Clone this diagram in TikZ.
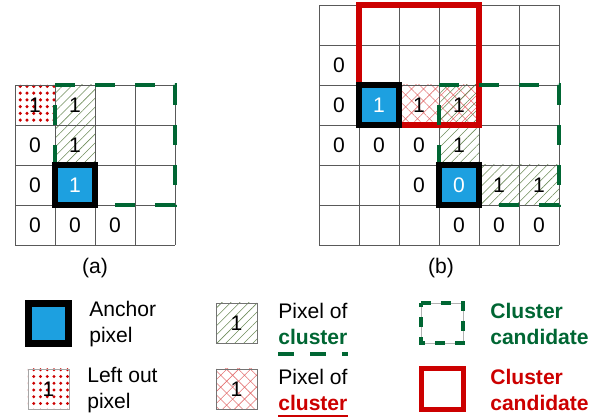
\documentclass[tikz,border=0pt]{standalone}
\usepackage{fontspec}
\setmainfont{Liberation Sans}
\usetikzlibrary{patterns.meta}
\definecolor{anchorblue}{RGB}{29,160,224}
\definecolor{candgreen}{RGB}{0,102,51}
\definecolor{candred}{RGB}{204,0,0}
\definecolor{hatchgreen}{RGB}{110,140,90}
\begin{document}
\begin{tikzpicture}[
    font = \fontsize{15}{18.5}\selectfont,
    gridline/.style = {black!65, line width = 0.6pt},
    digit/.style = {inner sep = 0pt},
    anchorbox/.style = {draw = black, line width = 0.16cm, fill = anchorblue},
    greencand/.style = {candgreen, line width = 0.12cm, dash pattern = on 0.5cm off 0.5cm},
    redcand/.style = {candred, line width = 0.14cm},
    greenhatch/.style = {pattern = {Lines[angle = 45, distance = 4.5pt, line width = 0.4pt]}, pattern color = hatchgreen},
    redhatch/.style = {pattern = {Hatch[angle = 45, distance = 6pt, line width = 0.4pt]}, pattern color = candred!55},
    leftout/.style = {pattern = {Dots[distance = 4.8pt, radius = 1.2pt]}, pattern color = candred},
    legendtext/.style = {anchor = west, align = left, inner sep = 0pt}
]
\useasboundingbox (0, 0) rectangle (15.2, -10.425);

% (a)
\begin{scope}[shift = {(0.375, -2.125)}]
    \fill [leftout] (0, 0) rectangle (1, -1);
    \fill [greenhatch] (1, 0) rectangle (2, -2);
    \draw [gridline] (0, 0) grid (4, -4);
    \foreach \c/\r/\v [count = \i] in {0/0/1, 1/0/1, 0/1/0, 1/1/1, 0/2/0, 0/3/0, 1/3/0, 2/3/0}
        \node [digit] (a\i) at (\c + 0.5, -\r - 0.5) {\v};
    \draw [greencand] (1, 0) -- (4, 0) -- (4, -3) -- (1, -3) -- cycle;
    \draw [anchorbox] (1, -2) rectangle (2, -3);
    \node [digit, white] (aanchor) at (1.5, -2.5) {1};
    \node (alabel) at (2, -4.575) {(a)};
\end{scope}

% (b)
\begin{scope}[shift = {(7.975, -0.125)}]
    \fill [redhatch] (2, -2) rectangle (4, -3);
    \fill [greenhatch] (3, -2) rectangle (4, -4);
    \fill [greenhatch] (4, -4) rectangle (6, -5);
    \draw [gridline] (0, 0) grid (6, -6);
    \foreach \c/\r/\v [count = \i] in {0/1/0, 0/2/0, 2/2/1, 3/2/1, 0/3/0, 1/3/0, 2/3/0, 3/3/1, 2/4/0, 4/4/1, 5/4/1, 3/5/0, 4/5/0, 5/5/0}
        \node [digit] (b\i) at (\c + 0.5, -\r - 0.5) {\v};
    \draw [redcand] (1, 0) rectangle (4, -3);
    \draw [greencand] (3, -2) -- (6, -2) -- (6, -5) -- (3, -5) -- cycle;
    \draw [anchorbox] (1, -2) rectangle (2, -3);
    \node [digit, white] (banchorone) at (1.5, -2.5) {1};
    \draw [anchorbox] (3, -4) rectangle (4, -5);
    \node [digit, white] (banchortwo) at (3.5, -4.5) {0};
    \node (blabel) at (3.05, -6.575) {(b)};
\end{scope}

% legend
\draw [anchorbox, line width = 0.175cm] (0.7125, -7.5875) rectangle (1.7125, -8.5875);
\node [legendtext] (anchortext) at (2.225, -8.1) {Anchor\\pixel};
\draw [leftout, draw = black!35] (0.7, -9.225) rectangle (1.725, -10.225);
\node [digit] (leftone) at (1.2125, -9.725) {1};
\node [legendtext] (lefttext) at (2.175, -9.74) {Left out\\pixel};

\draw [greenhatch, draw = black!55] (5.4, -7.575) rectangle (6.425, -8.575);
\node [digit] (greenone) at (5.9125, -8.075) {1};
\node [legendtext] (greentext) at (6.95, -8.1) {Pixel of\\\textbf{\color{candgreen}cluster}};
\draw [candgreen, line width = 0.1cm, dash pattern = on 0.4cm off 0.4cm] ([yshift = -0.225cm] greentext.south west) -- ([yshift = -0.225cm] greentext.south east);
\draw [redhatch, draw = black!55] (5.4, -9.225) rectangle (6.425, -10.225);
\node [digit] (redone) at (5.9125, -9.725) {1};
\node [legendtext] (redtext) at (6.95, -9.74) {Pixel of\\\textbf{\color{candred}cluster}};
\draw [candred, line width = 0.05cm] ([yshift = -0.125cm] redtext.south west) -- ([yshift = -0.125cm] redtext.south east);

\draw [black!30, line width = 0.5pt] (10.525, -7.575) rectangle (11.575, -8.575);
\draw [greencand, line width = 0.1cm, dash pattern = on 0.25cm off 0.25cm] (10.525, -7.575) -- (11.575, -7.575) -- (11.575, -8.575) -- (10.525, -8.575) -- cycle;
\node [legendtext, font = \fontsize{15}{18.5}\selectfont\bfseries, candgreen] (greencandtext) at (12.25, -8.1) {Cluster\\candidate};
\draw [redcand, line width = 0.125cm] (10.525, -9.225) rectangle (11.575, -10.25);
\node [legendtext, font = \fontsize{15}{18.5}\selectfont\bfseries, candred] (redcandtext) at (12.25, -9.74) {Cluster\\candidate};
\end{tikzpicture}
\end{document}
